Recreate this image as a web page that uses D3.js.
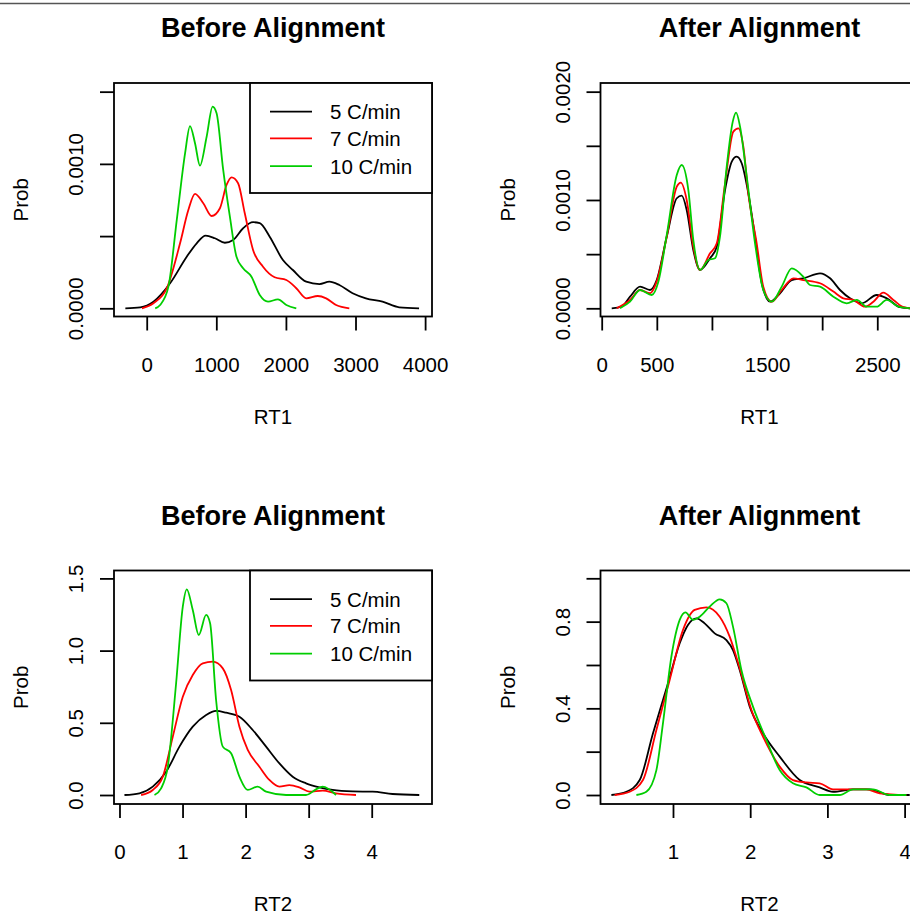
<!DOCTYPE html>
<html>
<head>
<meta charset="utf-8">
<script src="https://cdn.jsdelivr.net/npm/d3@7"></script>
<style>
  body { margin: 0; background: #ffffff; }
  svg { display: block; }
  text { font-family: "Liberation Sans", Arial, sans-serif; fill: #000000; }
</style>
</head>
<body>
<div id="chart"></div>
<script>
/////////////////DATA////////////////////////////
var seriesNames = ['5 C/min', '7 C/min', '10 C/min'];

// RT1, before alignment
var rt1Before5 = [[-307, 0], [-93, 0.000007], [97, 0.000046], [336, 0.000173], [575, 0.000357], [718, 0.00045],
    [847, 0.000503], [980, 0.000485], [1123, 0.000454], [1242, 0.000473], [1385, 0.000554], [1528, 0.000596],
    [1624, 0.000589], [1767, 0.000496], [1957, 0.000334], [2100, 0.000265], [2292, 0.000184], [2482, 0.000168],
    [2625, 0.000184], [2768, 0.000161], [2958, 0.000104], [3149, 0.000069], [3388, 0.000046], [3627, 0.000007], [3913, 0]];
var rt1Before7 = [[-69, 0], [97, 0.000035], [289, 0.000139], [479, 0.00045], [598, 0.00068], [694, 0.000792],
    [813, 0.000727], [933, 0.000639], [1052, 0.000693], [1147, 0.000854], [1219, 0.000907], [1313, 0.000866],
    [1409, 0.000658], [1528, 0.000404], [1671, 0.000288], [1838, 0.000215], [2006, 0.000196], [2149, 0.000139],
    [2292, 0.000069], [2458, 0.000085], [2578, 0.000069], [2721, 0.000023], [2911, 0]];
var rt1Before10 = [[122, 0], [193, 0.000023], [312, 0.00015], [432, 0.000612], [551, 0.001073], [622, 0.001262],
    [694, 0.001143], [765, 0.000988], [861, 0.001188], [947, 0.001396], [1004, 0.00135], [1099, 0.000958],
    [1195, 0.000634], [1290, 0.000357], [1385, 0.000277], [1505, 0.000219], [1624, 0.000092], [1743, 0.000046],
    [1886, 0.000062], [2006, 0.000023], [2149, 0]];

// RT1, after alignment
var rt1After5 = [[91, 0], [181, 0.000015], [257, 0.000107], [348, 0.0002], [438, 0.000169], [499, 0.000261],
    [590, 0.000661], [681, 0.001016], [726, 0.00104], [771, 0.000908], [831, 0.000538], [892, 0.000354],
    [983, 0.000462], [1044, 0.000569], [1119, 0.001092], [1180, 0.001354], [1225, 0.0014], [1270, 0.001339],
    [1330, 0.001062], [1391, 0.000661], [1452, 0.000231], [1527, 0.000061], [1618, 0.000139], [1724, 0.000261],
    [1829, 0.000277], [1981, 0.000323], [2072, 0.000277], [2162, 0.000169], [2253, 0.000092], [2359, 0.000046],
    [2495, 0.000123], [2586, 0.000092], [2707, 0.00001], [2798, 0]];
var rt1After7 = [[136, 0], [257, 0.000077], [348, 0.000169], [438, 0.000139], [499, 0.000246], [590, 0.000661],
    [681, 0.001123], [717, 0.00116], [771, 0.001], [831, 0.000569], [892, 0.000354], [983, 0.000508],
    [1044, 0.0006], [1119, 0.001154], [1194, 0.001631], [1240, 0.001662], [1285, 0.001492], [1330, 0.001062],
    [1406, 0.0006], [1466, 0.0002], [1543, 0.000061], [1633, 0.000169], [1739, 0.000277], [1829, 0.000261],
    [1981, 0.000231], [2102, 0.000154], [2192, 0.000092], [2283, 0.000077], [2389, 0.000015], [2465, 0.000061],
    [2555, 0.000144], [2646, 0.000077], [2737, 0.00001], [2798, 0]];
var rt1After10 = [[166, 0], [257, 0.000061], [348, 0.000169], [454, 0.000123], [514, 0.000246], [590, 0.000677],
    [681, 0.001231], [726, 0.001323], [786, 0.001092], [831, 0.000631], [892, 0.000354], [967, 0.000446],
    [1028, 0.000462], [1073, 0.000661], [1134, 0.001308], [1189, 0.001723], [1219, 0.001806], [1255, 0.001677],
    [1316, 0.001215], [1391, 0.0006], [1466, 0.000169], [1543, 0.000061], [1633, 0.0002], [1724, 0.000369],
    [1829, 0.000292], [1890, 0.000215], [1981, 0.0002], [2102, 0.000107], [2223, 0.000046], [2314, 0.000077],
    [2405, 0.000015], [2495, 0.000015], [2586, 0.000077], [2692, 0.000015], [2798, 0]];

// RT2, before alignment
var rt2Before5 = [[0.079, 0], [0.317, 0.012], [0.528, 0.058], [0.74, 0.161], [0.951, 0.335], [1.162, 0.473],
    [1.374, 0.554], [1.532, 0.582], [1.691, 0.57], [1.902, 0.542], [2.113, 0.45], [2.325, 0.335], [2.536, 0.219],
    [2.747, 0.127], [2.958, 0.081], [3.17, 0.053], [3.38, 0.035], [3.697, 0.025], [4.014, 0.023], [4.33, 0.007], [4.754, 0]];
var rt2Before7 = [[0.343, 0], [0.528, 0.035], [0.687, 0.127], [0.845, 0.404], [1.004, 0.681], [1.162, 0.831],
    [1.321, 0.912], [1.479, 0.923], [1.638, 0.877], [1.77, 0.727], [1.902, 0.473], [2.034, 0.312], [2.219, 0.196],
    [2.377, 0.104], [2.536, 0.058], [2.694, 0.069], [2.853, 0.053], [3.011, 0.023], [3.222, 0.03], [3.434, 0.012], [3.751, 0]];
var rt2Before10 = [[0.555, 0], [0.66, 0.046], [0.766, 0.196], [0.898, 0.774], [1.004, 1.304], [1.067, 1.424],
    [1.162, 1.281], [1.257, 1.108], [1.374, 1.247], [1.437, 1.189], [1.532, 0.658], [1.638, 0.335], [1.77, 0.289],
    [1.902, 0.127], [2.034, 0.035], [2.192, 0.058], [2.325, 0.023], [2.642, 0], [2.958, 0], [3.117, 0.039],
    [3.222, 0.058], [3.434, 0]];

// RT2, after alignment
var rt2After5 = [[0.202, 0], [0.396, 0.015], [0.569, 0.069], [0.741, 0.285], [0.935, 0.515], [1.087, 0.7],
    [1.194, 0.785], [1.303, 0.815], [1.41, 0.792], [1.54, 0.746], [1.692, 0.715], [1.777, 0.669], [1.864, 0.577],
    [1.994, 0.408], [2.166, 0.285], [2.382, 0.177], [2.641, 0.069], [2.9, 0.035], [3.073, 0.015], [3.332, 0.026],
    [3.548, 0.026], [3.807, 0], [4.066, 0]];
var rt2After7 = [[0.245, 0], [0.439, 0.015], [0.611, 0.069], [0.785, 0.3], [0.957, 0.531], [1.13, 0.762],
    [1.281, 0.854], [1.433, 0.866], [1.605, 0.823], [1.734, 0.731], [1.864, 0.585], [2.016, 0.392], [2.166, 0.269],
    [2.382, 0.131], [2.554, 0.069], [2.728, 0.058], [2.9, 0.054], [3.073, 0.026], [3.289, 0.026], [3.505, 0.026],
    [3.677, 0.008], [4.023, 0]];
var rt2After10 = [[0.526, 0], [0.655, 0.015], [0.785, 0.115], [0.87, 0.331], [0.979, 0.638], [1.087, 0.808],
    [1.161, 0.843], [1.259, 0.808], [1.346, 0.823], [1.475, 0.869], [1.605, 0.903], [1.692, 0.885], [1.777, 0.777],
    [1.886, 0.577], [2.036, 0.408], [2.21, 0.254], [2.382, 0.115], [2.554, 0.054], [2.728, 0.035], [2.9, 0],
    [3.159, 0], [3.332, 0.026], [3.591, 0.026], [3.807, 0], [4.023, 0]];

// axis limits (R usr) and ticks
var rt1BeforeXLim = [-470, 4099];
var rt1BeforeYLim = [-0.0000568, 0.00156];
var rt1BeforeXTicks = [0, 1000, 2000, 3000, 4000];
var rt1BeforeXLabels = ['0', '1000', '2000', '3000', '4000'];
var rt1BeforeYTicks = [0, 0.0005, 0.001, 0.0015];
var rt1BeforeYLabels = ['0.0000', '', '0.0010', ''];

var rt1AfterXLim = [-10.9, 2874];
var rt1AfterYLim = [-0.0000757, 0.00208];
var rt1AfterXTicks = [0, 500, 1000, 1500, 2000, 2500, 3000];
var rt1AfterXLabels = ['0', '500', '', '1500', '', '2500', ''];
var rt1AfterYTicks = [0, 0.0005, 0.001, 0.0015, 0.002];
var rt1AfterYLabels = ['0.0000', '', '0.0010', '', '0.0020'];

var rt2BeforeXLim = [-0.087, 4.956];
var rt2BeforeYLim = [-0.0623, 1.5547];
var rt2BeforeXTicks = [0, 1, 2, 3, 4];
var rt2BeforeXLabels = ['0', '1', '2', '3', '4'];
var rt2BeforeYTicks = [0, 0.5, 1, 1.5];
var rt2BeforeYLabels = ['0.0', '0.5', '1.0', '1.5'];

var rt2AfterXLim = [0.061, 4.18];
var rt2AfterYLim = [-0.0415, 1.036];
var rt2AfterXTicks = [1, 2, 3, 4];
var rt2AfterXLabels = ['1', '2', '3', '4'];
var rt2AfterYTicks = [0, 0.2, 0.4, 0.6, 0.8, 1.0];
var rt2AfterYLabels = ['0.0', '', '0.4', '', '0.8', ''];
/////////////////END DATA////////////////////////////


window.densityPanels = (function () {

    var Panels = {};

    Panels.colors = ['#000000', '#ff0000', '#00cd00'];
    Panels.colLeft = [114, 600.5];
    Panels.rowTop = [83, 570.5];
    Panels.boxW = 318;
    Panels.boxH = 233.5;
    Panels.lineW = 1.8;
    Panels.font = 20.5;

    Panels.init = function () {
        this.svg = d3.select('#chart').append('svg')
            .attr('width', 910)
            .attr('height', 914);

        // frame edge at the top of the screenshot
        this.svg.append('line')
            .attr('x1', 0).attr('x2', 910)
            .attr('y1', 3.5).attr('y2', 3.5)
            .attr('stroke', '#555555')
            .attr('stroke-width', 1.5);

        this.drawPanel({
            col: 0, row: 0, title: 'Before Alignment', xLab: 'RT1', legend: true,
            series: [rt1Before5, rt1Before7, rt1Before10],
            xLim: rt1BeforeXLim, yLim: rt1BeforeYLim,
            xTicks: rt1BeforeXTicks, xLabels: rt1BeforeXLabels,
            yTicks: rt1BeforeYTicks, yLabels: rt1BeforeYLabels
        });
        this.drawPanel({
            col: 1, row: 0, title: 'After Alignment', xLab: 'RT1', legend: false,
            series: [rt1After5, rt1After7, rt1After10],
            xLim: rt1AfterXLim, yLim: rt1AfterYLim,
            xTicks: rt1AfterXTicks, xLabels: rt1AfterXLabels,
            yTicks: rt1AfterYTicks, yLabels: rt1AfterYLabels
        });
        this.drawPanel({
            col: 0, row: 1, title: 'Before Alignment', xLab: 'RT2', legend: true,
            series: [rt2Before5, rt2Before7, rt2Before10],
            xLim: rt2BeforeXLim, yLim: rt2BeforeYLim,
            xTicks: rt2BeforeXTicks, xLabels: rt2BeforeXLabels,
            yTicks: rt2BeforeYTicks, yLabels: rt2BeforeYLabels
        });
        this.drawPanel({
            col: 1, row: 1, title: 'After Alignment', xLab: 'RT2', legend: false,
            series: [rt2After5, rt2After7, rt2After10],
            xLim: rt2AfterXLim, yLim: rt2AfterYLim,
            xTicks: rt2AfterXTicks, xLabels: rt2AfterXLabels,
            yTicks: rt2AfterYTicks, yLabels: rt2AfterYLabels
        });
    };

    Panels.drawPanel = function (p) {
        var self = this;
        var left = this.colLeft[p.col];
        var top = this.rowTop[p.row];
        var right = left + this.boxW;
        var bottom = top + this.boxH;

        var x = d3.scaleLinear().domain(p.xLim).range([left, right]);
        var y = d3.scaleLinear().domain(p.yLim).range([bottom, top]);

        var g = this.svg.append('g');

        var line = d3.line()
            .x(function (d) { return x(d[0]); })
            .y(function (d) { return y(d[1]); })
            .curve(d3.curveMonotoneX);

        p.series.forEach(function (s, i) {
            g.append('path')
                .datum(s)
                .attr('d', line)
                .attr('fill', 'none')
                .attr('stroke', self.colors[i])
                .attr('stroke-width', self.lineW)
                .attr('stroke-linejoin', 'round');
        });

        // x axis
        var xAxis = g.append('g')
            .attr('transform', 'translate(0,' + bottom + ')')
            .call(d3.axisBottom(x)
                .tickValues(p.xTicks)
                .tickSize(14)
                .tickSizeOuter(0)
                .tickFormat(function (d, i) { return p.xLabels[i]; }));
        this.styleAxis(xAxis);
        xAxis.selectAll('text')
            .attr('dy', null)
            .attr('y', 55);

        // y axis with R style vertical labels
        var yAxis = g.append('g')
            .attr('transform', 'translate(' + left + ',0)')
            .call(d3.axisLeft(y)
                .tickValues(p.yTicks)
                .tickSize(14)
                .tickSizeOuter(0)
                .tickFormat(function (d, i) { return p.yLabels[i]; }));
        this.styleAxis(yAxis);
        yAxis.selectAll('text')
            .attr('x', null)
            .attr('dy', null)
            .attr('text-anchor', 'middle')
            .attr('transform', 'translate(-31,0) rotate(-90)');

        g.append('rect')
            .attr('x', left).attr('y', top)
            .attr('width', this.boxW).attr('height', this.boxH)
            .attr('fill', 'none')
            .attr('stroke', '#000000')
            .attr('stroke-width', this.lineW);

        g.append('text')
            .attr('x', (left + right) / 2)
            .attr('y', top - 46)
            .attr('text-anchor', 'middle')
            .style('font-size', '27px')
            .style('font-weight', 'bold')
            .text(p.title);

        g.append('text')
            .attr('x', (left + right) / 2)
            .attr('y', bottom + 107)
            .attr('text-anchor', 'middle')
            .style('font-size', this.font + 'px')
            .text(p.xLab);

        g.append('text')
            .attr('transform', 'translate(' + (left - 86) + ',' + ((top + bottom) / 2) + ') rotate(-90)')
            .attr('text-anchor', 'middle')
            .style('font-size', this.font + 'px')
            .text('Prob');

        if (p.legend) {
            this.drawLegend(g, right, top);
        }
    };

    Panels.styleAxis = function (axis) {
        axis.select('.domain').remove();
        axis.attr('font-family', null).attr('font-size', null);
        axis.selectAll('line')
            .attr('stroke', '#000000')
            .attr('stroke-width', this.lineW);
        axis.selectAll('text')
            .attr('fill', '#000000')
            .style('font-size', this.font + 'px');
    };

    Panels.drawLegend = function (g, right, top) {
        var self = this;
        var legW = 182;
        var legH = 110;
        var legLeft = right - legW;
        var rowY = [28.7, 55.3, 83.2];

        g.append('rect')
            .attr('x', legLeft).attr('y', top)
            .attr('width', legW).attr('height', legH)
            .attr('fill', '#ffffff')
            .attr('stroke', '#000000')
            .attr('stroke-width', this.lineW);

        seriesNames.forEach(function (name, i) {
            g.append('line')
                .attr('x1', legLeft + 20).attr('x2', legLeft + 62)
                .attr('y1', top + rowY[i]).attr('y2', top + rowY[i])
                .attr('stroke', self.colors[i])
                .attr('stroke-width', self.lineW);
            g.append('text')
                .attr('x', legLeft + 80)
                .attr('y', top + rowY[i])
                .attr('dy', '0.36em')
                .style('font-size', self.font + 'px')
                .text(name);
        });
    };

    return Panels;

})();

window.densityPanels.init();
</script>
</body>
</html>
